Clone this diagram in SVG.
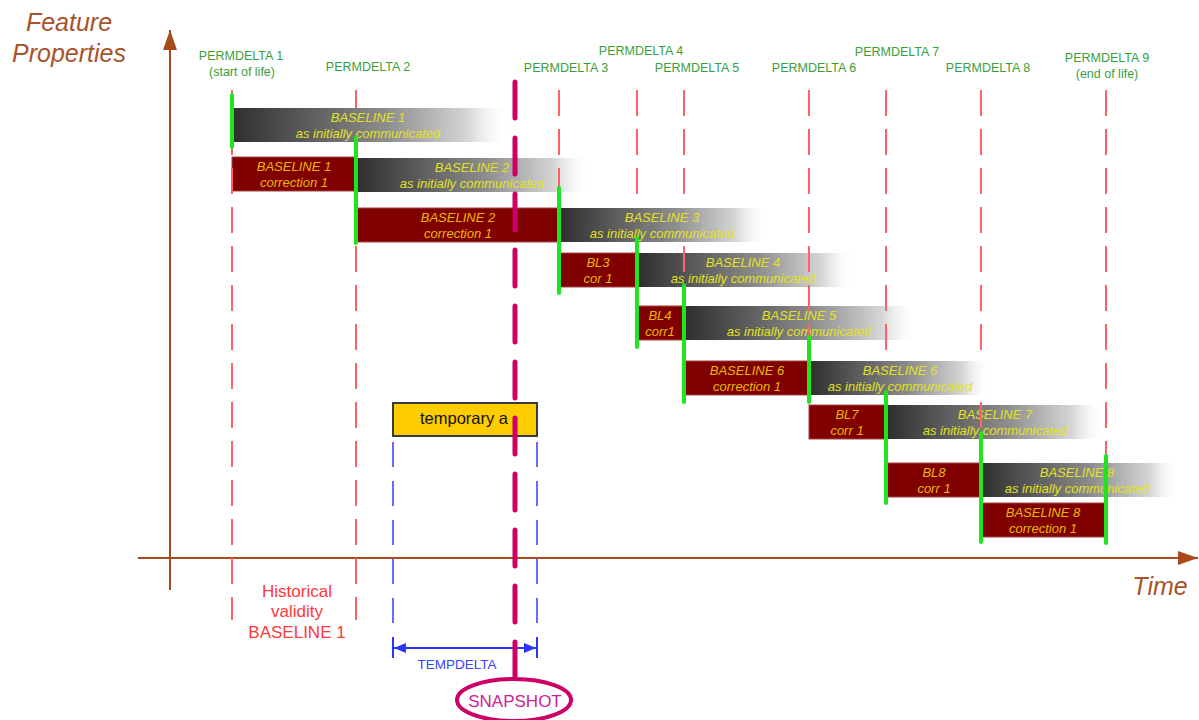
<svg xmlns="http://www.w3.org/2000/svg" width="1199" height="720" viewBox="0 0 1199 720">
  <defs>
    <linearGradient id="fade" x1="0" y1="0" x2="1" y2="0">
      <stop offset="0" stop-color="#2e2e2e"/>
      <stop offset="0.55" stop-color="#8c8c8c"/>
      <stop offset="0.85" stop-color="#d6d6d6"/>
      <stop offset="1" stop-color="#ffffff" stop-opacity="0"/>
    </linearGradient>
    <marker id="axisHead" viewBox="0 0 20 14" refX="20" refY="7" markerWidth="20" markerHeight="14" markerUnits="userSpaceOnUse" orient="auto">
      <path d="M0,0 L20,7 L0,14 z" fill="#a94a1c"/>
    </marker>
    <marker id="spanHead" viewBox="0 0 12 10" refX="12" refY="5" markerWidth="12" markerHeight="10" markerUnits="userSpaceOnUse" orient="auto-start-reverse">
      <path d="M0,0 L12,5 L0,10 z" fill="#2a36ff"/>
    </marker>
  </defs>
  <style>
    text { font-family: "Liberation Sans", Arial, sans-serif; text-anchor: middle; }
    .axis { stroke: #a94a1c; stroke-width: 2; fill: none; }
    .axlabel { font-size: 25px; font-style: italic; fill: #a9532a; }
    .pd { font-size: 12.5px; fill: #3a9e3a; }
    .pds { font-size: 12.5px; fill: #3a9e3a; }
    .init { fill: url(#fade); }
    .corr { fill: #800000; stroke: #a54545; stroke-width: 1; }
    .bt { font-size: 13px; font-style: italic; }
    .init-t { fill: #e2e224; }
    .corr-t { fill: #e8b800; }
    .guide { stroke: #ff6262; stroke-width: 2; stroke-dasharray: 26 13; }
    .guide-solid { stroke: #ff6262; stroke-width: 2; }
    .start { stroke: #1ee61e; stroke-width: 4; stroke-linecap: round; }
    .tmp { stroke: #6a6aff; stroke-width: 2; stroke-dasharray: 25 14; }
  </style>

  <rect width="1199" height="720" fill="#ffffff"/>

  <!-- axes -->
  <g id="axes">
    <line class="axis" x1="170" y1="590" x2="170" y2="30" marker-end="url(#axisHead)"/>
    <line class="axis" x1="138" y1="558" x2="1198" y2="558" marker-end="url(#axisHead)"/>
    <text class="axlabel" x="69" y="31">Feature</text>
    <text class="axlabel" x="69" y="62">Properties</text>
    <text class="axlabel" x="1160" y="595" font-size="24">Time</text>
  </g>

  <!-- permdelta labels -->
  <g id="permdelta-labels">
    <text class="pd" x="241" y="60">PERMDELTA 1</text>
    <text class="pds" x="242" y="76">(start of life)</text>
    <text class="pd" x="368" y="71">PERMDELTA 2</text>
    <text class="pd" x="566" y="72">PERMDELTA 3</text>
    <text class="pd" x="641" y="55">PERMDELTA 4</text>
    <text class="pd" x="697" y="72">PERMDELTA 5</text>
    <text class="pd" x="814" y="72">PERMDELTA 6</text>
    <text class="pd" x="897" y="56">PERMDELTA 7</text>
    <text class="pd" x="988" y="72">PERMDELTA 8</text>
    <text class="pd" x="1107" y="62">PERMDELTA 9</text>
    <text class="pds" x="1107" y="78">(end of life)</text>
  </g>

  <!-- baseline bars: as initially communicated -->
  <g id="bl1-initial"><rect class="init" x="232" y="108" width="278" height="34"/>
    <text class="bt init-t" x="368" y="121.5">BASELINE 1</text><text class="bt init-t" x="368" y="137.5">as initially communicated</text></g>
  <g id="bl2-initial"><rect class="init" x="356" y="158" width="234" height="34"/>
    <text class="bt init-t" x="472" y="171.5">BASELINE 2</text><text class="bt init-t" x="472" y="187.5">as initially communicated</text></g>
  <g id="bl3-initial"><rect class="init" x="559" y="208" width="208" height="34"/>
    <text class="bt init-t" x="662" y="221.5">BASELINE 3</text><text class="bt init-t" x="662" y="237.5">as initially communicated</text></g>
  <g id="bl4-initial"><rect class="init" x="637" y="253" width="218" height="34"/>
    <text class="bt init-t" x="743" y="266.5">BASELINE 4</text><text class="bt init-t" x="743" y="282.5">as initially communicated</text></g>
  <g id="bl5-initial"><rect class="init" x="684" y="306" width="233" height="34"/>
    <text class="bt init-t" x="799" y="319.5">BASELINE 5</text><text class="bt init-t" x="799" y="335.5">as initially communicated</text></g>
  <g id="bl6-initial"><rect class="init" x="809" y="361" width="181" height="34"/>
    <text class="bt init-t" x="900" y="374.5">BASELINE 6</text><text class="bt init-t" x="900" y="390.5">as initially communicated</text></g>
  <g id="bl7-initial"><rect class="init" x="886" y="405" width="219" height="34"/>
    <text class="bt init-t" x="995" y="418.5">BASELINE 7</text><text class="bt init-t" x="995" y="434.5">as initially communicated</text></g>
  <g id="bl8-initial"><rect class="init" x="981" y="463" width="199" height="34"/>
    <text class="bt init-t" x="1077" y="476.5">BASELINE 8</text><text class="bt init-t" x="1077" y="492.5">as initially communicated</text></g>

  <!-- baseline bars: corrections -->
  <g id="bl1-corr"><rect class="corr" x="232" y="157" width="124" height="34"/>
    <text class="bt corr-t" x="294" y="170.5">BASELINE 1</text><text class="bt corr-t" x="294" y="186.5">correction 1</text></g>
  <g id="bl2-corr"><rect class="corr" x="356" y="208" width="203" height="34"/>
    <text class="bt corr-t" x="458" y="221.5">BASELINE 2</text><text class="bt corr-t" x="458" y="237.5">correction 1</text></g>
  <g id="bl3-corr"><rect class="corr" x="559" y="253" width="78" height="34"/>
    <text class="bt corr-t" x="598" y="266.5">BL3</text><text class="bt corr-t" x="598" y="282.5">cor 1</text></g>
  <g id="bl4-corr"><rect class="corr" x="637" y="306" width="47" height="34"/>
    <text class="bt corr-t" x="660" y="319.5">BL4</text><text class="bt corr-t" x="660" y="335.5">corr1</text></g>
  <g id="bl6-corr"><rect class="corr" x="684" y="361" width="125" height="34"/>
    <text class="bt corr-t" x="747" y="374.5">BASELINE 6</text><text class="bt corr-t" x="747" y="390.5">correction 1</text></g>
  <g id="bl7-corr"><rect class="corr" x="809" y="405" width="77" height="34"/>
    <text class="bt corr-t" x="847" y="418.5">BL7</text><text class="bt corr-t" x="847" y="434.5">corr 1</text></g>
  <g id="bl8-corr1"><rect class="corr" x="886" y="463" width="95" height="34"/>
    <text class="bt corr-t" x="934" y="476.5">BL8</text><text class="bt corr-t" x="934" y="492.5">corr 1</text></g>
  <g id="bl8-corr2"><rect class="corr" x="981" y="503" width="125" height="34"/>
    <text class="bt corr-t" x="1043" y="516.5">BASELINE 8</text><text class="bt corr-t" x="1043" y="532.5">correction 1</text></g>

  <!-- permdelta time guides (dashes hidden where a bar lies over them) -->
  <g id="permdelta-guides">
    <line class="guide" x1="232" y1="90" x2="232" y2="620"/>
    <line class="guide-solid" x1="356" y1="90" x2="356" y2="108"/>
    <line class="guide" x1="356" y1="246" x2="356" y2="620"/>
    <line class="guide" x1="559" y1="90" x2="559" y2="188"/>
    <line class="guide" x1="637" y1="90" x2="637" y2="194"/>
    <line class="guide" x1="684" y1="90" x2="684" y2="194"/>
    <line class="guide-solid" x1="684" y1="246" x2="684" y2="272"/>
    <line class="guide" x1="809" y1="90" x2="809" y2="337"/>
    <line class="guide" x1="886" y1="90" x2="886" y2="350"/>
    <line class="guide" x1="981" y1="90" x2="981" y2="350"/>
    <line class="guide-solid" x1="981" y1="402" x2="981" y2="428"/>
    <line class="guide" x1="1106" y1="90" x2="1106" y2="456"/>
  </g>

  <!-- validity start markers -->
  <g id="validity-starts">
    <line class="start" x1="232" y1="95" x2="232" y2="147"/>
    <line class="start" x1="356" y1="138" x2="356" y2="243"/>
    <line class="start" x1="559" y1="188" x2="559" y2="293"/>
    <line class="start" x1="637" y1="238" x2="637" y2="347"/>
    <line class="start" x1="684" y1="285" x2="684" y2="402"/>
    <line class="start" x1="809" y1="337" x2="809" y2="402"/>
    <line class="start" x1="886" y1="392" x2="886" y2="503"/>
    <line class="start" x1="981" y1="433" x2="981" y2="542"/>
    <line class="start" x1="1106" y1="456" x2="1106" y2="543"/>
  </g>

  <!-- historical validity note -->
  <g id="historical-note">
    <text x="297" y="597" font-size="17" fill="#ff3838">Historical</text>
    <text x="297" y="617" font-size="17" fill="#ff3838">validity</text>
    <text x="297" y="638" font-size="17" fill="#ff3838">BASELINE 1</text>
  </g>

  <!-- temporary feature -->
  <g id="temporary-a">
    <rect x="393" y="403" width="144" height="33" fill="#ffcc00" stroke="#3a3a3a" stroke-width="2"/>
    <text x="464" y="424" font-size="16.5" fill="#111111">temporary a</text>
  </g>

  <g id="connectors">
    <!-- tempdelta span -->
    <line class="tmp" x1="393" y1="442" x2="393" y2="625"/>
    <line class="tmp" x1="537" y1="442" x2="537" y2="625"/>
    <line x1="393" y1="637" x2="393" y2="658" stroke="#2a36ff" stroke-width="2"/>
    <line x1="537" y1="637" x2="537" y2="658" stroke="#2a36ff" stroke-width="2"/>
    <line x1="394" y1="648" x2="536" y2="648" stroke="#2a36ff" stroke-width="2" marker-start="url(#spanHead)" marker-end="url(#spanHead)"/>
    <text x="457" y="669" font-size="13.5" fill="#3344ff">TEMPDELTA</text>
    <!-- snapshot instant -->
    <line x1="515" y1="82" x2="515" y2="678" stroke="#cc0066" stroke-width="5" stroke-dasharray="36 20" stroke-linecap="round"/>
  </g>

  <g id="snapshot">
    <ellipse cx="514" cy="700" rx="57" ry="21" fill="#ffffff" stroke="#cc0066" stroke-width="4"/>
    <text x="515" y="707" font-size="17" fill="#cc2299">SNAPSHOT</text>
  </g>
</svg>
